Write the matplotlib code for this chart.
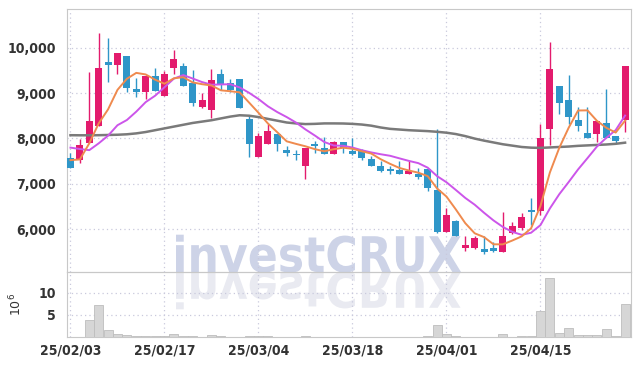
import matplotlib
matplotlib.use('Agg')
import numpy as np
import matplotlib.pyplot as plt
from matplotlib.textpath import TextPath
from matplotlib.patches import PathPatch
from matplotlib.font_manager import FontProperties
from matplotlib.transforms import Affine2D, IdentityTransform

# trading days, 25/02/03 .. 25/04/28
dates = ['25/02/03', '25/02/04', '25/02/05', '25/02/06', '25/02/07', '25/02/10', '25/02/11', '25/02/12',
         '25/02/13', '25/02/14', '25/02/17', '25/02/18', '25/02/19', '25/02/20', '25/02/21', '25/02/24',
         '25/02/25', '25/02/26', '25/02/27', '25/02/28', '25/03/04', '25/03/05', '25/03/06', '25/03/07',
         '25/03/10', '25/03/11', '25/03/12', '25/03/13', '25/03/14', '25/03/17', '25/03/18', '25/03/19',
         '25/03/20', '25/03/21', '25/03/24', '25/03/25', '25/03/26', '25/03/27', '25/03/28', '25/03/31',
         '25/04/01', '25/04/02', '25/04/03', '25/04/04', '25/04/07', '25/04/08', '25/04/09', '25/04/10',
         '25/04/11', '25/04/14', '25/04/15', '25/04/16', '25/04/17', '25/04/18', '25/04/21', '25/04/22',
         '25/04/23', '25/04/24', '25/04/25', '25/04/28']

opens = [7559, 7522, 7904, 8279, 9684, 9625, 9816, 9088, 9029, 9375,
         8941, 9559, 9596, 9213, 8699, 8626, 9419, 9213, 9309, 8419,
         7596, 7868, 8096, 7743, 7640, 7397, 7875, 7794, 7647, 7912,
         7721, 7743, 7544, 7390, 7300, 7301, 7206, 7213, 7324, 6860,
         5941, 6176, 5588, 5588, 5559, 5573, 5500, 5919, 6015, 6404,
         6404, 8199, 9154, 8846, 8404, 8110, 8103, 8331, 8051, 8404]
highs = [7669, 7978, 9456, 10316, 10206, 9882, 9816, 9324, 9375, 9544,
         9493, 9941, 9669, 9507, 8993, 9530, 9529, 9301, 9309, 8500,
         8110, 8324, 8096, 7838, 7735, 7779, 7941, 8037, 7941, 7912,
         8015, 7765, 7618, 7500, 7397, 7500, 7500, 7353, 7324, 8199,
         6456, 6190, 5853, 5853, 5853, 5720, 6382, 6162, 6360, 6676,
         8309, 10118, 9154, 9397, 8699, 8699, 8382, 9081, 8051, 9596]
lows = [7353, 7463, 7890, 8279, 9250, 9412, 9029, 8919, 8868, 9051,
        8941, 9412, 9162, 8713, 8676, 8449, 9066, 9029, 8662, 7581,
        7596, 7868, 7721, 7610, 7522, 7103, 7669, 7647, 7647, 7669,
        7632, 7522, 7397, 7250, 7213, 7206, 7206, 7103, 6838, 5904,
        5926, 5838, 5515, 5559, 5441, 5500, 5500, 5882, 5985, 6088,
        6309, 7853, 8529, 8309, 8162, 8015, 7926, 8015, 7890, 8147]
closes = [7353, 7853, 8382, 9551, 9625, 9882, 9118, 9029, 9375, 9051,
          9419, 9750, 9162, 8787, 8846, 9288, 9191, 9066, 8676, 7868,
          8044, 8154, 7882, 7684, 7625, 7779, 7838, 7647, 7912, 7794,
          7662, 7559, 7397, 7287, 7287, 7206, 7279, 7154, 6912, 5926,
          6309, 5853, 5647, 5794, 5500, 5522, 5846, 6066, 6257, 6382,
          8000, 9529, 8787, 8478, 8279, 8015, 8382, 8015, 7949, 9596]

ma5 = [7520, 7535, 7890, 8330, 8640, 9070, 9315, 9445, 9410, 9295,
       9205, 9325, 9350, 9235, 9195, 9167, 9060, 9040, 9015, 8790,
       8565, 8330, 8135, 7935, 7878, 7825, 7762, 7715, 7760, 7794,
       7771, 7715, 7665, 7540, 7438, 7347, 7291, 7243, 7168, 6895,
       6716, 6431, 6129, 5906, 5821, 5663, 5662, 5746, 5838, 6015,
       6510, 7247, 7791, 8235, 8615, 8618, 8388, 8234, 8128, 8391]
ma10 = [7796, 7765, 7740, 7890, 8060, 8290, 8405, 8590, 8800, 8940,
        9128, 9318, 9396, 9320, 9242, 9183, 9190, 9194, 9124, 9005,
        8868, 8708, 8580, 8470, 8348, 8197, 8062, 7920, 7843, 7836,
        7798, 7738, 7690, 7650, 7616, 7559, 7503, 7454, 7354, 7167,
        7032, 6861, 6686, 6537, 6358, 6190, 6046, 5938, 5872, 5918,
        6087, 6454, 6768, 7037, 7315, 7564, 7818, 8012, 8182, 8503]
ma_long = [8070, 8068, 8068, 8070, 8075, 8080, 8090, 8110, 8140, 8180,
           8220, 8260, 8300, 8340, 8370, 8400, 8440, 8480, 8510, 8500,
           8470, 8430, 8390, 8350, 8330, 8315, 8320, 8330, 8330, 8328,
           8320, 8305, 8280, 8240, 8210, 8195, 8180, 8170, 8160, 8145,
           8125, 8095, 8050, 7995, 7950, 7910, 7870, 7840, 7810, 7795,
           7790, 7800, 7810, 7820, 7835, 7845, 7855, 7865, 7880, 7905]

# volume in millions of shares
volume = [0.08, 0.1, 3.86, 7.27, 1.6, 0.75, 0.45, 0.25, 0.2, 0.2,
          0.2, 0.7, 0.3, 0.25, 0.1, 0.35, 0.15, 0.1, 0.1, 0.3,
          0.3, 0.12, 0.1, 0.1, 0.1, 0.15, 0.1, 0.1, 0.1, 0.1,
          0.1, 0.1, 0.08, 0.08, 0.08, 0.08, 0.1, 0.08, 0.2, 2.7,
          0.7, 0.3, 0.1, 0.1, 0.1, 0.1, 0.7, 0.1, 0.15, 0.25,
          6.0, 13.3, 1.0, 2.0, 0.5, 0.5, 0.5, 1.75, 0.3, 7.5]

price_ticks = [6000, 7000, 8000, 9000, 10000]
vol_ticks = [5, 10]
date_ticks = ['25/02/03', '25/02/17', '25/03/04', '25/03/18', '25/04/01', '25/04/15']

up_color = '#e31b6d'
down_color = '#2f96c8'
grid_color = '#c9c9dc'
spine_color = '#c8c8c8'
text_color = '#333333'

x = np.arange(len(dates))
o = np.array(opens)
c = np.array(closes)
colors = [up_color if cc >= oo else down_color for oo, cc in zip(o, c)]

fig = plt.figure(figsize=(6.39, 3.66), dpi=100)
ax = fig.add_axes([67 / 639, 94 / 366, 564 / 639, 263 / 366])
axv = fig.add_axes([67 / 639, 29 / 366, 564 / 639, 65 / 366], sharex=ax)
for a in (ax, axv):
    a.set_facecolor('none')

# watermark + reflection (drawn behind the axes)
fp = FontProperties(family='DejaVu Sans', weight='bold')
tp = TextPath((0, 0), 'investCRUX', size=1, prop=fp)
ext = tp.get_extents()
sx = 285 / ext.width
sy = 38 / ext.height
base = Affine2D().translate(-ext.x0, 0)
wm = PathPatch(tp, facecolor='#cdd3e7', edgecolor='none', zorder=-2,
               transform=base + Affine2D().scale(sx, sy).translate(176, 94))
wm_ref = PathPatch(tp, facecolor='#e9eaf1', edgecolor='none', zorder=-2,
                   transform=base + Affine2D().scale(sx, -sy).translate(176, 94))
fig.add_artist(wm_ref)
fig.add_artist(wm)

# candles
ax.vlines(x, lows, highs, colors=colors, linewidth=1, zorder=2)
body_lo = np.minimum(o, c)
body_h = np.maximum(np.abs(c - o), 35)
ax.bar(x, body_h, bottom=body_lo, width=0.75, color=colors, linewidth=0, zorder=3)

ax.plot(x, ma_long, color='#7a7a7a', linewidth=1.8, zorder=4)
ax.plot(x, ma10, color='#cc55ea', linewidth=1.4, zorder=5)
ax.plot(x, ma5, color='#ef8a4e', linewidth=1.4, zorder=6)

axv.bar(x, volume, width=0.95, color='#d6d6d6', edgecolor='#bdbdbd', linewidth=0.6, zorder=3)

tick_pos = [dates.index(d) for d in date_ticks]
for a in (ax, axv):
    a.set_xticks(tick_pos)
    a.grid(True, color=grid_color, linestyle=(0, (1, 2.5)), linewidth=0.9, zorder=0)
    for s in a.spines.values():
        s.set_color(spine_color)
    a.tick_params(length=0, colors=text_color)

ax.set_xlim(-0.37, 59.63)
ax.set_ylim(5052, 10854)
ax.set_yticks(price_ticks)
ax.set_yticklabels([f'{v:,}' for v in price_ticks])
ax.tick_params(axis='x', labelbottom=False)
ax.tick_params(axis='y', pad=8, labelsize=10)

axv.set_ylim(0, 14.77)
axv.set_yticks(vol_ticks)
axv.set_xticklabels(date_ticks)
axv.tick_params(axis='y', pad=8, labelsize=10)
axv.tick_params(axis='x', pad=5, labelsize=10)
axv.set_ylabel('$10^6$', color=text_color, fontsize=9, labelpad=10)

for lab in ax.get_yticklabels() + axv.get_yticklabels() + axv.get_xticklabels():
    lab.set_fontstretch('condensed')
    lab.set_fontweight('semibold')

fig.savefig('out.png', dpi=100)
